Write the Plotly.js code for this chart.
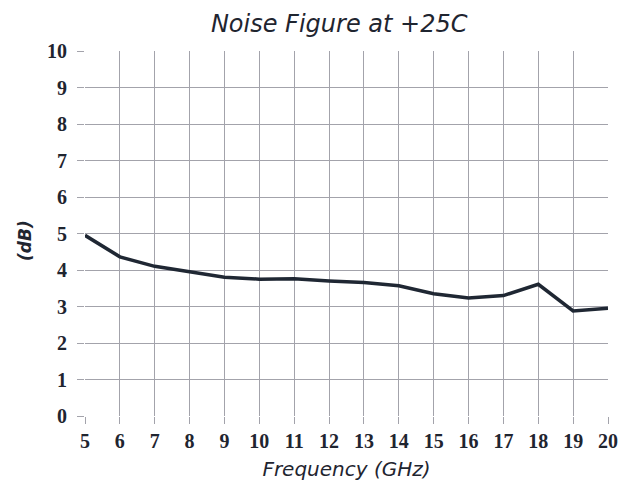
<!DOCTYPE html>
<html>
<head>
<meta charset="utf-8">
<script src="https://cdn.plot.ly/plotly-3.0.1.min.js"></script>
<style>html,body{margin:0;padding:0;background:#fff;}#chart{width:630px;height:489px;}</style>
</head>
<body>
<div id="chart"></div>
<script>
const frequencyGHz = [5, 6, 7, 8, 9, 10, 11, 12, 13, 14, 15, 16, 17, 18, 19, 20];
const noiseFigureDb = [4.95, 4.36, 4.1, 3.95, 3.8, 3.75, 3.76, 3.7, 3.66, 3.57, 3.35, 3.23, 3.3, 3.61, 2.88, 2.95];
const yTicks = [0, 1, 2, 3, 4, 5, 6, 7, 8, 9, 10];

const textColor = '#1f2530';
const gridColor = '#a3a3ab';

const trace = {
  x: frequencyGHz,
  y: noiseFigureDb,
  type: 'scatter',
  mode: 'lines',
  line: {color: '#1f2733', width: 3.5},
  hoverinfo: 'skip'
};

const layout = {
  width: 630,
  height: 489,
  margin: {l: 85, r: 22, t: 51, b: 73},
  paper_bgcolor: '#ffffff',
  plot_bgcolor: '#ffffff',
  showlegend: false,
  title: {
    text: '<i>Noise Figure at +25C</i>',
    font: {family: 'DejaVu Sans', size: 24, color: textColor},
    x: 0.486, xref: 'paper', xanchor: 'center',
    y: 0.951, yref: 'container', yanchor: 'middle'
  },
  xaxis: {
    range: [5, 20],
    tickvals: frequencyGHz,
    ticktext: frequencyGHz.map(String),
    showgrid: true,
    gridcolor: gridColor,
    gridwidth: 1,
    zeroline: false,
    showline: false,
    ticks: 'outside',
    ticklen: 7,
    tickcolor: gridColor,
    tickfont: {family: 'Liberation Serif', size: 20, color: textColor, weight: 'bold'},
    title: {
      text: '<i>Frequency (GHz)</i>',
      font: {family: 'DejaVu Sans', size: 20, color: textColor},
      standoff: 10
    },
    fixedrange: true
  },
  yaxis: {
    range: [0, 10],
    tickvals: yTicks,
    ticktext: yTicks.map(String),
    showgrid: true,
    gridcolor: gridColor,
    gridwidth: 1,
    zeroline: false,
    showline: false,
    ticks: 'outside',
    ticklen: 7,
    tickcolor: gridColor,
    ticklabelstandoff: 6,
    tickfont: {family: 'Liberation Serif', size: 20, color: textColor, weight: 'bold'},
    fixedrange: true
  },
  annotations: [{
    text: '<b><i>(dB)</i></b>',
    textangle: -90,
    xref: 'paper', yref: 'paper',
    x: (25 - 85) / 523, y: (416 - 241) / 365,
    xanchor: 'center', yanchor: 'middle',
    showarrow: false,
    font: {family: 'DejaVu Sans', size: 17, color: textColor}
  }]
};

Plotly.newPlot('chart', [trace], layout, {displayModeBar: false, staticPlot: true});
</script>
</body>
</html>
